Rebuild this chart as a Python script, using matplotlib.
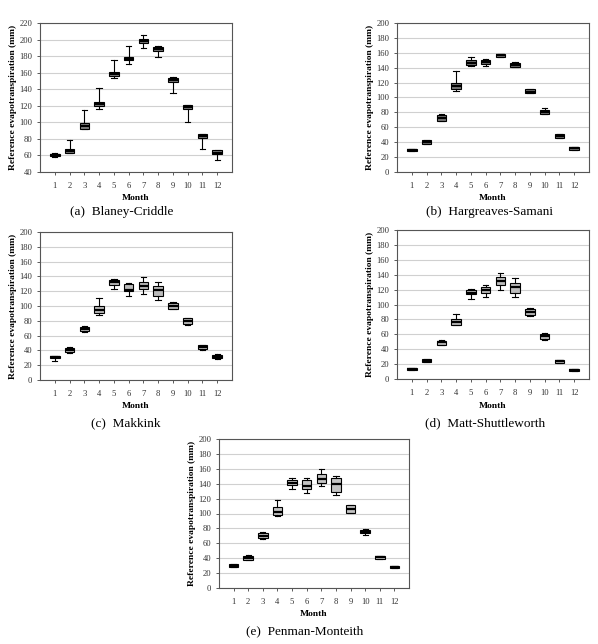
import matplotlib
matplotlib.use("Agg")
import matplotlib.pyplot as plt

months = list(range(1, 13))

# Each panel: whisker low, q1, median, q3, whisker high for months 1..12
bc_lo  = [58.5, 62.5, 91.5, 116.5, 153.7, 171.0, 190.0, 178.7, 135.5, 100.3, 68.3, 55.0]
bc_q1  = [59.0, 62.6, 91.8, 120.0, 155.7, 175.0, 195.7, 185.6, 149.2, 116.0, 81.0, 61.5]
bc_med = [60.0, 65.0, 95.0, 122.0, 158.0, 177.0, 198.0, 188.0, 151.0, 118.5, 83.5, 63.5]
bc_q3  = [61.5, 67.5, 98.7, 125.0, 161.0, 179.5, 200.6, 191.3, 153.7, 121.0, 86.0, 66.0]
bc_hi  = [63.5, 78.8, 114.4, 142.0, 174.7, 192.5, 205.4, 192.0, 155.3, 121.3, 86.5, 67.0]

hs_lo  = [27.7, 37.5, 68.0, 108.3, 142.3, 142.3, 155.0, 141.0, 105.5, 78.0, 46.0, 30.0]
hs_q1  = [27.7, 38.0, 68.5, 111.4, 143.6, 145.4, 154.8, 141.0, 106.0, 77.9, 46.0, 30.0]
hs_med = [29.0, 40.0, 73.0, 115.0, 146.0, 148.0, 156.5, 143.5, 108.0, 81.0, 48.0, 32.0]
hs_q3  = [30.4, 42.5, 76.5, 119.0, 150.0, 150.8, 158.8, 146.8, 111.4, 83.7, 50.5, 34.0]
hs_hi  = [30.5, 43.0, 77.9, 136.0, 154.8, 151.7, 159.0, 147.0, 111.5, 86.0, 50.5, 34.0]

mk_lo  = [26.2, 36.6, 65.5, 87.6, 123.3, 112.9, 116.0, 108.4, 95.5, 74.5, 41.0, 29.0]
mk_q1  = [30.2, 38.4, 66.0, 91.2, 128.7, 119.6, 122.8, 112.9, 96.6, 75.8, 41.5, 29.3]
mk_med = [31.5, 41.0, 69.0, 95.0, 132.0, 122.0, 127.0, 121.0, 100.0, 80.0, 44.5, 31.5]
mk_q3  = [32.5, 43.8, 72.2, 100.2, 134.5, 130.0, 132.7, 126.4, 104.7, 83.5, 47.4, 34.3]
mk_hi  = [32.5, 45.0, 72.5, 110.6, 136.0, 131.0, 139.5, 132.3, 105.0, 84.4, 47.4, 34.5]

ms_lo  = [12.5, 22.5, 45.5, 71.9, 108.0, 110.3, 120.0, 109.8, 85.0, 53.0, 21.5, 11.0]
ms_q1  = [12.5, 22.8, 46.0, 72.8, 113.8, 115.2, 126.3, 115.2, 86.2, 53.6, 21.9, 11.2]
ms_med = [13.8, 24.5, 49.0, 77.0, 116.0, 119.0, 131.0, 123.5, 90.5, 57.5, 23.8, 12.0]
ms_q3  = [14.7, 26.3, 51.3, 80.8, 120.0, 123.7, 136.6, 129.5, 94.2, 60.7, 25.4, 13.0]
ms_hi  = [15.0, 26.5, 52.2, 86.6, 120.5, 125.9, 142.0, 135.3, 95.0, 61.5, 25.5, 13.0]

pm_lo  = [28.5, 37.7, 66.4, 96.0, 132.3, 127.8, 136.3, 124.2, 101.0, 71.3, 38.5, 27.2]
pm_q1  = [28.7, 38.1, 66.8, 98.2, 138.0, 132.3, 140.8, 129.0, 101.3, 73.5, 38.6, 27.4]
pm_med = [30.0, 40.0, 70.0, 102.0, 141.0, 137.0, 146.0, 139.0, 106.0, 75.5, 41.0, 28.3]
pm_q3  = [32.3, 43.0, 74.0, 109.0, 144.8, 145.3, 153.4, 147.0, 111.2, 78.5, 43.0, 29.1]
pm_hi  = [32.5, 44.8, 75.3, 118.0, 147.0, 147.5, 159.2, 151.0, 111.5, 79.0, 43.5, 29.2]

captions = ["(a)  Blaney-Criddle", "(b)  Hargreaves-Samani", "(c)  Makkink",
            "(d)  Matt-Shuttleworth", "(e)  Penman-Monteith"]
ylabel = "Reference evapotranspiration (mm)"
xlabel = "Month"

W, H = 598, 644
fig = plt.figure(figsize=(W / 100, H / 100), dpi=100)
fig.patch.set_facecolor("white")

serif = ["Liberation Serif", "DejaVu Serif"]

panels = [
    dict(data=(bc_lo, bc_q1, bc_med, bc_q3, bc_hi), box=(40, 23, 232, 172), ylim=(40, 220),
         fill="#858585", cap_x=122, cap_y=212, month_y=198),
    dict(data=(hs_lo, hs_q1, hs_med, hs_q3, hs_hi), box=(397, 23, 589, 172), ylim=(0, 200),
         fill="#7a7a7a", cap_x=490, cap_y=212, month_y=198),
    dict(data=(mk_lo, mk_q1, mk_med, mk_q3, mk_hi), box=(40, 232, 232, 380), ylim=(0, 200),
         fill="#bcbcbc", cap_x=126, cap_y=423, month_y=406),
    dict(data=(ms_lo, ms_q1, ms_med, ms_q3, ms_hi), box=(397, 230, 589, 379), ylim=(0, 200),
         fill="#bcbcbc", cap_x=485, cap_y=423, month_y=406),
    dict(data=(pm_lo, pm_q1, pm_med, pm_q3, pm_hi), box=(219, 439, 409, 588), ylim=(0, 200),
         fill="#c4c4c4", cap_x=305, cap_y=631, month_y=614),
]

for p, cap in zip(panels, captions):
    l, t, r, b = p["box"]
    ax = fig.add_axes([l / W, 1 - b / H, (r - l) / W, (b - t) / H])
    lo, q1, med, q3, hi = p["data"]
    stats = [dict(whislo=lo[i], q1=q1[i], med=med[i], q3=q3[i], whishi=hi[i], fliers=[])
             for i in range(len(months))]
    ax.bxp(stats, positions=months, widths=0.65, showfliers=False, patch_artist=True,
           boxprops=dict(facecolor=p["fill"], edgecolor="black", linewidth=0.8),
           medianprops=dict(color="black", linewidth=1.6),
           whiskerprops=dict(color="black", linewidth=0.8),
           capprops=dict(color="black", linewidth=0.8),
           capwidths=0.36, zorder=3)
    ax.set_xlim(0, 13)
    ax.set_ylim(*p["ylim"])
    ax.set_yticks(range(p["ylim"][0], p["ylim"][1] + 1, 20))
    ax.set_xticks(months)
    ax.set_xticklabels([str(m) for m in months])
    ax.yaxis.grid(True, color="#d0d0d0", linewidth=0.8, zorder=0)
    ax.set_axisbelow(True)
    for s in ["top", "right", "left", "bottom"]:
        ax.spines[s].set_color("#555555")
        ax.spines[s].set_linewidth(0.8)
    ax.tick_params(axis="both", labelsize=6.2, length=2.5, width=0.6, colors="#404040")
    ax.tick_params(axis="x", pad=5)
    ax.tick_params(axis="y", pad=3)
    for lab in ax.get_xticklabels() + ax.get_yticklabels():
        lab.set_family(serif)
        lab.set_color("#333333")
    ax.set_ylabel(ylabel, fontsize=6.8, fontweight="bold", family=serif, labelpad=2)
    cx = (l + r) / 2
    fig.text(cx / W, 1 - p["month_y"] / H, xlabel, ha="center", va="center",
             fontsize=6.8, fontweight="bold", family=serif)
    fig.text(p["cap_x"] / W, 1 - p["cap_y"] / H, cap, ha="center", va="center",
             fontsize=9.5, family=serif)

fig.savefig("out.png", dpi=100, facecolor="white")
